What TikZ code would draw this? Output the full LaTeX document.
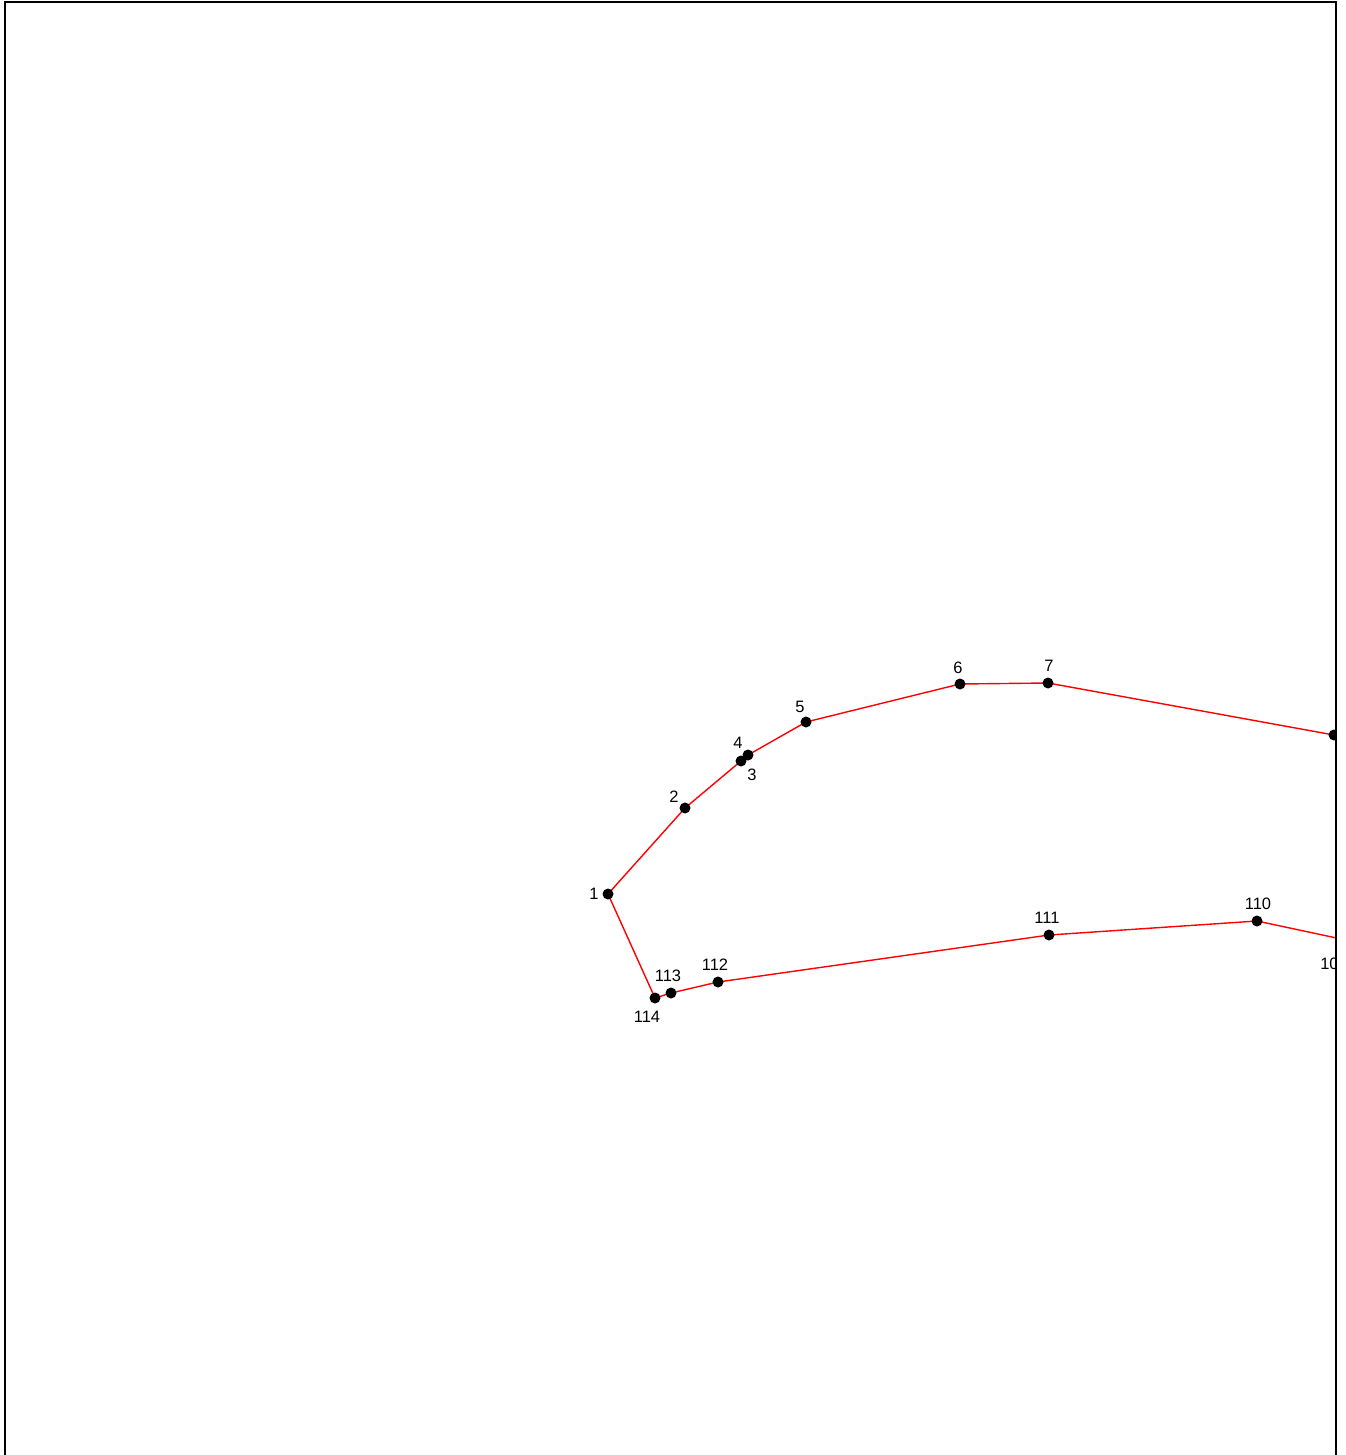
\documentclass[tikz,border=0pt]{standalone}
\usepackage{fontspec}
\setmainfont{Liberation Sans}
\begin{document}
\begin{tikzpicture}[x=1pt,y=-1pt,
  dot/.style={circle,fill=black,inner sep=0pt,minimum size=11pt},
  lab/.style={inner sep=0pt,font=\fontsize{16.5}{17}\selectfont},
  edge/.style={red,line width=1.4pt}]
\useasboundingbox (0,0) rectangle (1345,1455);
\begin{scope}
\clip (5,2) rectangle (1336,1460);
\coordinate (p1) at (608,894);
\coordinate (p2) at (685,808);
\coordinate (p3) at (741,761);
\coordinate (p4) at (748,755);
\coordinate (p5) at (806,722);
\coordinate (p6) at (960,684);
\coordinate (p7) at (1048,683);
\coordinate (p8) at (1334,735);
\coordinate (p109) at (1346,940);
\coordinate (p110) at (1257,921);
\coordinate (p111) at (1049,935);
\coordinate (p112) at (718,982);
\coordinate (p113) at (671,993);
\coordinate (p114) at (655,998);
\draw[edge] (p8)--(p7)--(p6)--(p5)--(p4)--(p3)--(p2)--(p1)--(p114)--(p113)--(p112)--(p111)--(p110)--(p109);
\foreach \n in {1,2,3,4,5,6,7,8,109,110,111,112,113,114}
  \node[dot] (d\n) at (p\n) {};
\node[lab] (l1) at (594,894) {1};
\node[lab] (l2) at (674,797) {2};
\node[lab] (l3) at (752,775) {3};
\node[lab] (l4) at (738,743) {4};
\node[lab] (l5) at (800,707) {5};
\node[lab] (l6) at (958,668) {6};
\node[lab] (l7) at (1049,666) {7};
\node[lab] (l109) at (1334,964) {109};
\node[lab] (l110) at (1258,904) {110};
\node[lab] (l111) at (1047,918) {111};
\node[lab] (l112) at (715,965) {112};
\node[lab] (l113) at (668,976) {113};
\node[lab] (l114) at (647,1017) {114};
\end{scope}
\draw[line width=2pt] (5,1460)--(5,2)--(1336,2)--(1336,1460);
\end{tikzpicture}
\end{document}
